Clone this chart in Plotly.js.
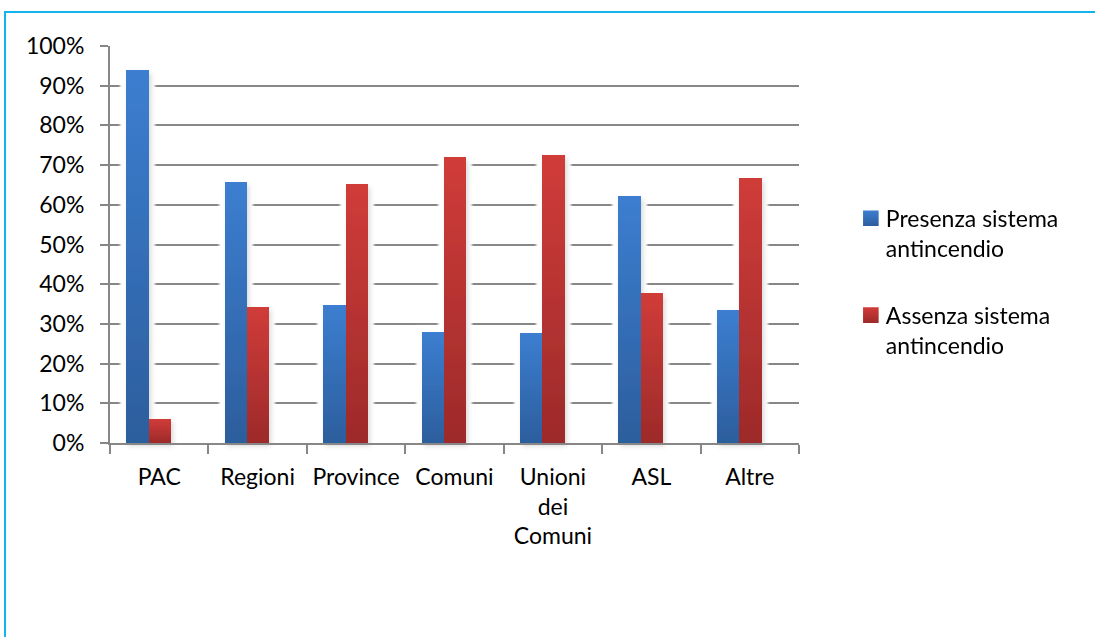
<!DOCTYPE html>
<html>
<head>
<meta charset="utf-8">
<script src="https://cdn.plot.ly/plotly-3.0.1.min.js"></script>
<style>
  html, body { margin: 0; padding: 0; background: #fff; }
  #wrap { position: relative; width: 1095px; height: 637px; overflow: hidden; }
  #chart { position: absolute; left: 0; top: 0; width: 1095px; height: 637px; }
  #frame {
    position: absolute; left: 4px; top: 11px; width: 1200px; height: 800px;
    border-left: 2px solid #13B3EC; border-top: 2px solid #13B3EC;
    pointer-events: none;
  }
</style>
</head>
<body>
<div id="wrap">
  <div id="chart"></div>
  <div id="frame"></div>
</div>
<script>
// Categories of public administration
const categories = ['PAC', 'Regioni', 'Province', 'Comuni', 'Unioni<br>dei<br>Comuni', 'ASL', 'Altre'];
// Share (%) of offices with a fire-protection system
const presenza = [94.0, 65.7, 34.8, 28.0, 27.7, 62.2, 33.5];
// Share (%) of offices without a fire-protection system
const assenza = [6.0, 34.3, 65.2, 72.0, 72.5, 37.8, 66.7];
const seriesNames = ['Presenza sistema<br>antincendio', 'Assenza sistema<br>antincendio'];
const yTickVals = [0, 10, 20, 30, 40, 50, 60, 70, 80, 90, 100];
const yTickText = ['0%', '10%', '20%', '30%', '40%', '50%', '60%', '70%', '80%', '90%', '100%'];

const FONT = 'Lato, "Open Sans", sans-serif';
const GRID = '#878787';

const traces = [
  {
    type: 'bar', x: categories, y: presenza, name: seriesNames[0],
    legendgroup: 'a', offset: -0.334, width: 0.227,
    marker: { color: '#3570BA', line: { width: 0 } },
    cliponaxis: false, hoverinfo: 'skip'
  },
  {
    type: 'bar', x: categories, y: assenza, name: seriesNames[1],
    legendgroup: 'b', offset: -0.107, width: 0.227,
    marker: { color: '#B83432', line: { width: 0 } },
    cliponaxis: false, hoverinfo: 'skip'
  }
];

const layout = {
  width: 1095, height: 637,
  margin: { l: 110, r: 296, t: 46, b: 194, pad: 0 },
  paper_bgcolor: 'rgba(0,0,0,0)', plot_bgcolor: 'rgba(0,0,0,0)',
  font: { family: FONT, size: 23, color: '#000' },
  showlegend: true,
  legend: {
    x: 1.068, xanchor: 'left', y: 0.62, yanchor: 'top',
    font: { family: FONT, size: 23, color: '#000' },
    valign: 'top', tracegroupgap: 34, traceorder: 'grouped',
    bgcolor: 'rgba(0,0,0,0)', borderwidth: 0, itemclick: false
  },
  xaxis: {
    type: 'category', range: [-0.5, 6.5], fixedrange: true,
    showline: true, linecolor: GRID, linewidth: 2,
    ticks: 'outside', tickson: 'boundaries', ticklen: 9, tickwidth: 2, tickcolor: GRID,
    showgrid: false, zeroline: false,
    tickfont: { family: FONT, size: 23, color: '#000' },
    ticklabelstandoff: 12
  },
  yaxis: {
    range: [0, 100], fixedrange: true,
    tickmode: 'array', tickvals: yTickVals, ticktext: yTickText,
    showline: true, linecolor: GRID, linewidth: 2,
    ticks: 'outside', ticklen: 8, tickwidth: 2, tickcolor: GRID,
    showgrid: true, gridcolor: GRID, gridwidth: 2,
    zeroline: false,
    tickfont: { family: FONT, size: 23, color: '#000' },
    ticklabelstandoff: 11
  },
  bargap: 0
};

Plotly.newPlot('chart', traces, layout, { staticPlot: true, displayModeBar: false }).then(function (gd) {
  const NS = 'http://www.w3.org/2000/svg';
  const svg = gd.querySelector('.main-svg');
  const defs = document.createElementNS(NS, 'defs');
  defs.innerHTML =
    '<linearGradient id="gradBlue" x1="0" y1="0" x2="0" y2="1">' +
      '<stop offset="0" stop-color="#3C7ED0"/><stop offset="1" stop-color="#2C5E9D"/></linearGradient>' +
    '<linearGradient id="gradRed" x1="0" y1="0" x2="0" y2="1">' +
      '<stop offset="0" stop-color="#D03C39"/><stop offset="1" stop-color="#9D2A2A"/></linearGradient>' +
    '<filter id="barGlow" x="-10%" y="-10%" width="120%" height="120%">' +
      '<feMorphology in="SourceAlpha" operator="dilate" radius="6" result="wide"/>' +
      '<feGaussianBlur in="wide" stdDeviation="1" result="wideSoft"/>' +
      '<feFlood flood-color="#ffffff"/>' +
      '<feComposite in2="wideSoft" operator="in" result="halo"/>' +
      '<feGaussianBlur in="SourceAlpha" stdDeviation="2.5" result="blur"/>' +
      '<feOffset in="blur" dx="2" dy="3" result="shift"/>' +
      '<feFlood flood-color="#000000" flood-opacity="0.32"/>' +
      '<feComposite in2="shift" operator="in" result="shadow"/>' +
      '<feMerge><feMergeNode in="halo"/><feMergeNode in="shadow"/><feMergeNode in="SourceGraphic"/></feMerge>' +
    '</filter>';
  svg.insertBefore(defs, svg.firstChild);

  const fills = ['url(#gradBlue)', 'url(#gradRed)'];
  gd.querySelectorAll('.barlayer .trace').forEach(function (tr, i) {
    tr.querySelectorAll('path').forEach(function (p) { p.style.fill = fills[i]; });
  });
  const barLayer = gd.querySelector('.barlayer');
  if (barLayer) barLayer.setAttribute('filter', 'url(#barGlow)');

  gd.querySelectorAll('.legend .traces').forEach(function (tr, i) {
    tr.querySelectorAll('.legendpoints path').forEach(function (p) {
      p.style.fill = fills[i];
      p.setAttribute('transform', 'translate(25,0) scale(1.3)');
    });
  });
});
</script>
</body>
</html>
